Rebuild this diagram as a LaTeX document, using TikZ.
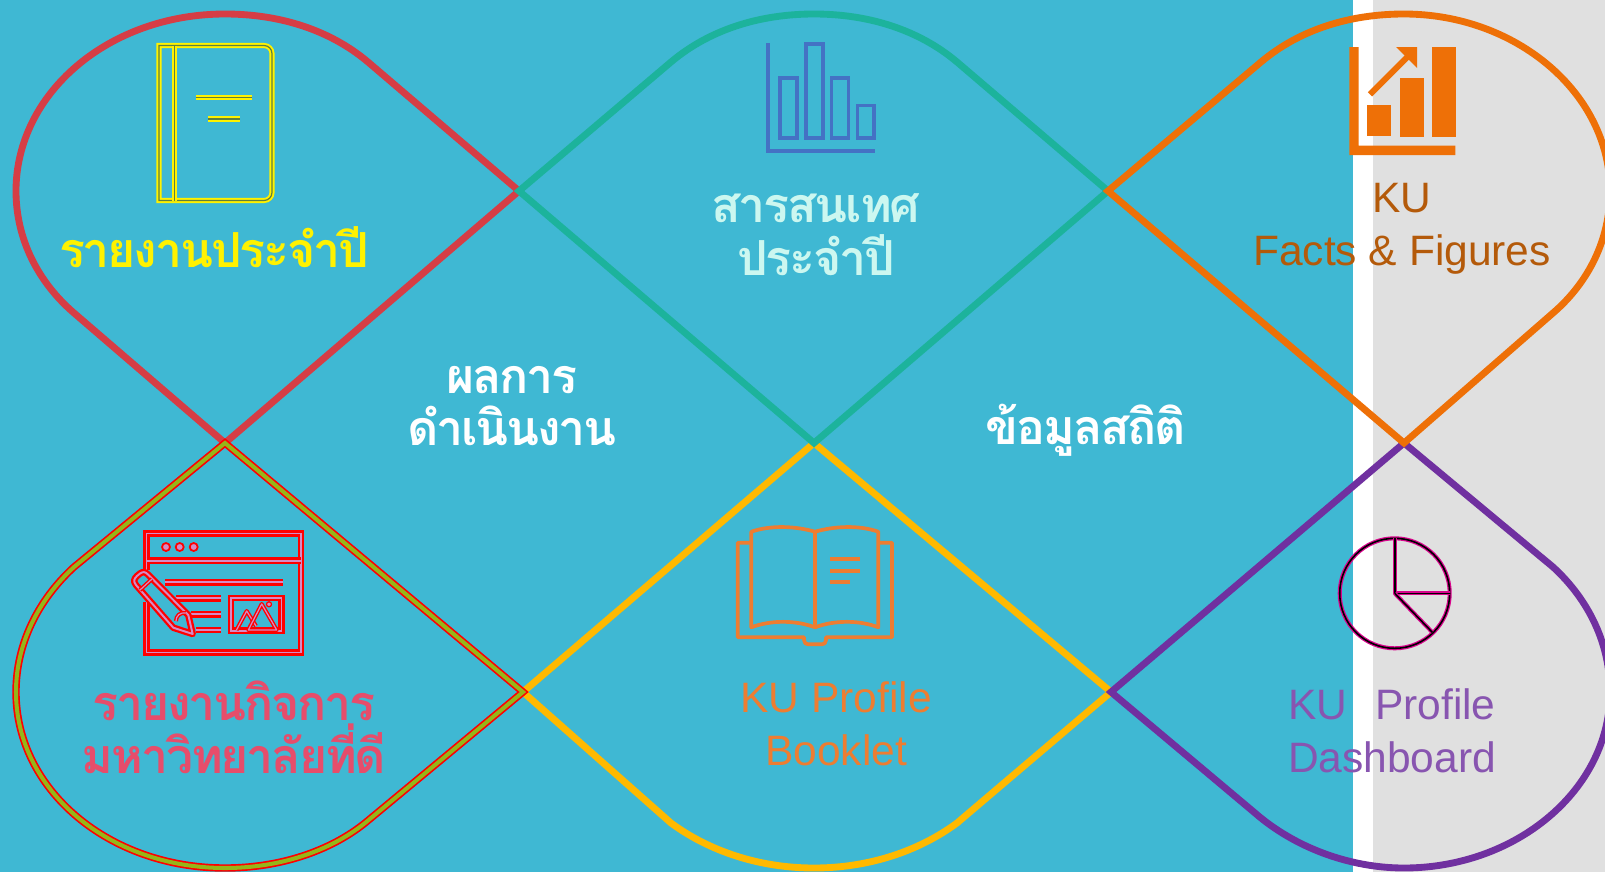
\documentclass[tikz,border=0pt]{standalone}
\usepackage{fontspec}
\setmainfont{Liberation Sans}
\newfontfamily\thaifont[Script=Thai,LetterSpace=-4.5]{Loma}
\definecolor{skyback}{HTML}{3FB8D3}
\definecolor{greyback}{HTML}{E0E0E0}
\definecolor{dropred}{HTML}{D63D45}
\definecolor{dropteal}{HTML}{1CB39C}
\definecolor{droporange}{HTML}{EE7007}
\definecolor{dropgold}{HTML}{FFB900}
\definecolor{droppurple}{HTML}{7030A0}
\definecolor{dropolive}{HTML}{96B518}
\definecolor{winpink}{HTML}{D58BC5}
\definecolor{bookdark}{HTML}{5F7F3F}
\definecolor{barblue}{HTML}{4472C4}
\definecolor{bookorange}{HTML}{ED7D31}
\definecolor{labelpink}{HTML}{E64D6B}
\definecolor{labelmint}{HTML}{CCF7F0}
\definecolor{labelbrown}{HTML}{B45A0A}
\definecolor{labelpurple}{HTML}{8855B0}
\tikzset{
	dropline/.style={line width=3.9pt, miter limit=10},
	yellowline/.style={draw=yellow, line width=1.1pt, double=bookdark, double distance=0.7pt},
	winline/.style={draw=red, line width=1.3pt, double=winpink, double distance=1.1pt},
	pieline/.style={draw=magenta!90!blue, line width=0.7pt, double=black, double distance=0.9pt},
	barline/.style={draw=barblue, line width=2pt},
	openbook/.style={draw=bookorange, line width=2.1pt, line join=round},
	thailabel/.style={font=\thaifont\bfseries\fontsize{27.5}{30}\selectfont, align=center},
	latinlabel/.style={font=\fontsize{24.2}{30}\selectfont, align=center}
}

\begin{document}
\begin{tikzpicture}[x=0.02cm, y=-0.02cm]
	\useasboundingbox (0, 0) rectangle (1605, 872);
	\clip (0, 0) rectangle (1605, 872);
	%%%%% BACKGROUND %%%%%
	\fill[skyback] (0, 0) rectangle (1353, 872);
	\fill[white] (1353, 0) rectangle (1373, 872);
	\fill[greyback] (1373, 0) rectangle (1605, 872);

	%%%%% DROPS %%%%%
	\draw[dropline, draw=dropred, shift={(225, 191)}] (294, 0) -- (143, -129) .. controls (105, -161) and (55, -177) .. (0, -177) .. controls (-116, -177) and (-209, -98) .. (-209, 0) .. controls (-209, 48) and (-187, 91) .. (-151, 122) -- (0, 252) -- cycle;
	\draw[dropline, draw=dropgold, shift={(814, 692)}] (297, 0) -- (143, 131) .. controls (105, 159) and (55, 176) .. (0, 176) .. controls (-55, 176) and (-105, 159) .. (-143, 131) -- (-291, 0) -- (0, -249) -- cycle;
	\draw[dropline, draw=dropteal, shift={(814, 191)}] (294, 0) -- (143, -129) .. controls (105, -161) and (55, -177) .. (0, -177) .. controls (-55, -177) and (-105, -161) .. (-143, -129) -- (-295, 0) -- (0, 252) -- cycle;
	\draw[dropline, draw=droppurple, shift={(1404, 692)}] (0, -249) -- (149, -125) .. controls (185, -92) and (206, -48) .. (206, 0) .. controls (206, 98) and (112, 176) .. (0, 176) .. controls (-55, 176) and (-110, 155) .. (-149, 121) -- (-293, 0) -- cycle;
	\draw[line width=0.95pt, draw=red, double=dropolive, double distance=2.3pt, miter limit=10, shift={(225, 692)}] (0, -249) -- (298, 0) -- (140, 131) .. controls (105, 159) and (55, 176) .. (0, 176) .. controls (-116, 176) and (-209, 98) .. (-209, 0) .. controls (-209, -48) and (-187, -92) .. (-151, -125) -- cycle;
	\draw[dropline, draw=droporange, shift={(1404, 191)}] (-296, 0) -- (-143, -129) .. controls (-105, -161) and (-55, -177) .. (0, -177) .. controls (112, -177) and (206, -98) .. (206, 0) .. controls (206, 48) and (185, 91) .. (149, 122) -- (0, 252) -- cycle;

	%%%%% YEAR BOOK %%%%%
	\draw[yellowline] (159, 45.5) -- (264, 45.5) arc (-90:0:8) -- (272, 192.5) arc (0:90:8) -- (159, 200.5) -- cycle;
	\draw[yellowline] (174.6, 45.5) -- (174.6, 200.5);
	\draw[yellowline] (196, 97.7) -- (252, 97.7);
	\draw[yellowline] (208, 119) -- (240, 119);

	%%%%% BAR CHART %%%%%
	\draw[barline] (768, 43) -- (768, 151) -- (875, 151);
	\draw[barline] (780, 78) rectangle (797, 138);
	\draw[barline] (806, 44) rectangle (823, 138);
	\draw[barline] (831.5, 78) rectangle (848.5, 138);
	\draw[barline] (857.5, 105.5) rectangle (874, 138);

	%%%%% RISING CHART %%%%%
	\fill[droporange] (1349.3, 47) -- (1358.7, 47) -- (1358.7, 145.7) -- (1455.3, 145.7) -- (1455.3, 155) -- (1349.3, 155) -- cycle;
	\fill[droporange] (1367, 105) rectangle (1391, 136);
	\fill[droporange] (1400, 78) rectangle (1424, 137);
	\fill[droporange] (1432, 47) rectangle (1456, 137);
	\draw[droporange, line width=3.4pt] (1370, 94.3) -- (1411.7, 52.7);
	\fill[droporange] (1396, 47) -- (1417, 47) -- (1417, 68) -- cycle;

	%%%%% WINDOW %%%%%
	\draw[winline] (146.5, 570) -- (146.5, 533.5) -- (301, 533.5) -- (301, 652.5) -- (146.5, 652.5) -- (146.5, 602);
	\draw[winline] (146.5, 560.7) -- (301, 560.7);
	\foreach \dotx in {166, 179.7, 193.7}
		\draw[draw=red, line width=1pt, fill=winpink] (\dotx, 547) circle (4);
	\draw[winline] (165, 582.3) -- (283, 582.3);
	\draw[winline] (176, 598.3) -- (221, 598.3);
	\draw[winline] (191, 614.3) -- (221, 614.3);
	\draw[winline] (196, 630) -- (221, 630);
	\draw[winline] (231, 598) rectangle (281.5, 630.7);
	\draw[winline, line width=0.8pt, double distance=0.7pt, line join=round] (236.5, 630) -- (246.7, 611) -- (256, 626);
	\draw[winline, line width=0.8pt, double distance=0.7pt, line join=round] (248.3, 630) -- (261.7, 604) -- (276.7, 630) -- cycle;
	\draw[draw=red, line width=0.7pt, fill=winpink] (269, 604.3) circle (2.5);
	\draw[winline, line join=round, fill=skyback] (192.7, 634) -- (173.3, 627.7) -- (136, 585) .. controls (133, 581) and (134, 579) .. (137, 576) -- (140, 573.5) .. controls (143, 571.5) and (145, 571.5) .. (148, 574.5) -- (188.3, 615) -- cycle;
	\draw[winline, line width=0.8pt, double distance=0.7pt] (140, 590) -- (152, 579);
	\draw[winline, line width=0.8pt, double distance=0.7pt] (176, 621) .. controls (176, 616) and (180, 612) .. (186, 613);

	%%%%% OPEN BOOK %%%%%
	\draw[openbook] (751.3, 542.7) -- (737.7, 542.7) -- (737.7, 637.3) -- (804, 637.3) -- (804, 640) .. controls (804, 643) and (806, 644.3) .. (808, 644.3) -- (822, 644.3) .. controls (824, 644.3) and (826, 643) .. (826, 640) -- (826, 637.3) -- (892, 637.3) -- (892, 542.7) -- (878.3, 542.7);
	\draw[openbook] (815, 531.7) .. controls (795, 526) and (771, 525) .. (751.3, 531.7) -- (751.3, 627.3) .. controls (771, 620) and (795, 620) .. (815, 627.3) .. controls (835, 620) and (859, 620) .. (878.3, 627.3) -- (878.3, 531.7) .. controls (859, 525) and (835, 526) .. (815, 531.7) -- cycle;
	\draw[openbook] (815, 531.7) -- (815, 627.3);
	\draw[openbook] (830, 559.3) -- (860, 559.3);
	\draw[openbook] (830, 571) -- (860, 571);
	\draw[openbook] (830, 581.7) -- (850, 581.7);

	%%%%% PIE %%%%%
	\draw[pieline] (1394.7, 593.3) circle (55);
	\draw[pieline, line join=round] (1394.7, 538.3) -- (1394.7, 593.3) -- (1449.7, 593.3);
	\draw[pieline] (1394.7, 593.3) -- (1432.3, 632.3);

	%%%%% LABELS %%%%%
	\node[thailabel, text=yellow] (yearbook) at (214, 247) {รายงานประจำปี};
	\node[thailabel, text=labelmint] (infoyear) at (816, 235) {สารสนเทศ\\ประจำปี};
	\node[thailabel, text=white] (results) at (512, 406) {ผลการ\\ดำเนินงาน};
	\node[thailabel, text=white] (stats) at (1086, 430) {ข้อมูลสถิติ};
	\node[thailabel, text=labelpink] (goodgov) at (234, 727) {รายงานกิจการ\\มหาวิทยาลัยที่ดี};
	\node[latinlabel, text=labelbrown] (kufacts) at (1402, 229) {KU\\Facts \& Figures};
	\node[latinlabel, text=bookorange] (kubooklet) at (836, 724) {KU Profile\\Booklet};
	\node[latinlabel, text=labelpurple] (kudash) at (1392, 731) {KU\hspace{0.65em}Profile\\Dashboard};
\end{tikzpicture}
\end{document}
